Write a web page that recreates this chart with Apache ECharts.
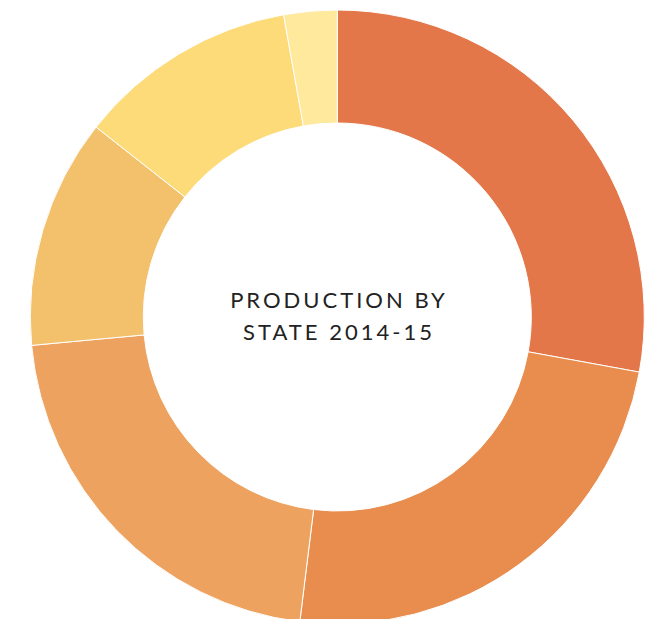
<!DOCTYPE html>
<html>
<head>
<meta charset="utf-8">
<script src="https://cdn.jsdelivr.net/npm/echarts@6/dist/echarts.min.js"></script>
<style>
html, body { margin: 0; padding: 0; background: #ffffff; }
#chart { width: 655px; height: 619px; }
#chart text { letter-spacing: 3px; }
</style>
</head>
<body>
<div id="chart"></div>
<script>
// Share of production by state
var states = ['State A', 'State B', 'State C', 'State D', 'State E', 'State F'];
var shares = [27.9, 24.1, 21.6, 12.1, 11.6, 2.8];
var colors = ['#E4774A', '#E88D4D', '#EDA35F', '#F3C06B', '#FDDB79', '#FEE99C'];
var centerTitle = 'PRODUCTION BY\nSTATE 2014-15';

var data = states.map(function (s, i) {
  return { name: s, value: shares[i], itemStyle: { color: colors[i] } };
});

var chart = echarts.init(document.getElementById('chart'), null, { renderer: 'svg' });
chart.setOption({
  animation: false,
  backgroundColor: '#ffffff',
  title: {
    text: centerTitle,
    left: 334,
    top: 310,
    textAlign: 'center',
    textVerticalAlign: 'middle',
    textStyle: {
      fontFamily: 'Lato',
      fontSize: 22,
      fontWeight: 'normal',
      color: '#222222',
      lineHeight: 32
    }
  },
  series: [{
    type: 'pie',
    center: [337.3, 317],
    radius: [194, 307],
    startAngle: 90,
    clockwise: true,
    avoidLabelOverlap: false,
    label: { show: false },
    labelLine: { show: false },
    emphasis: { disabled: true },
    itemStyle: { borderColor: '#ffffff', borderWidth: 1 },
    data: data
  }]
});
</script>
</body>
</html>
